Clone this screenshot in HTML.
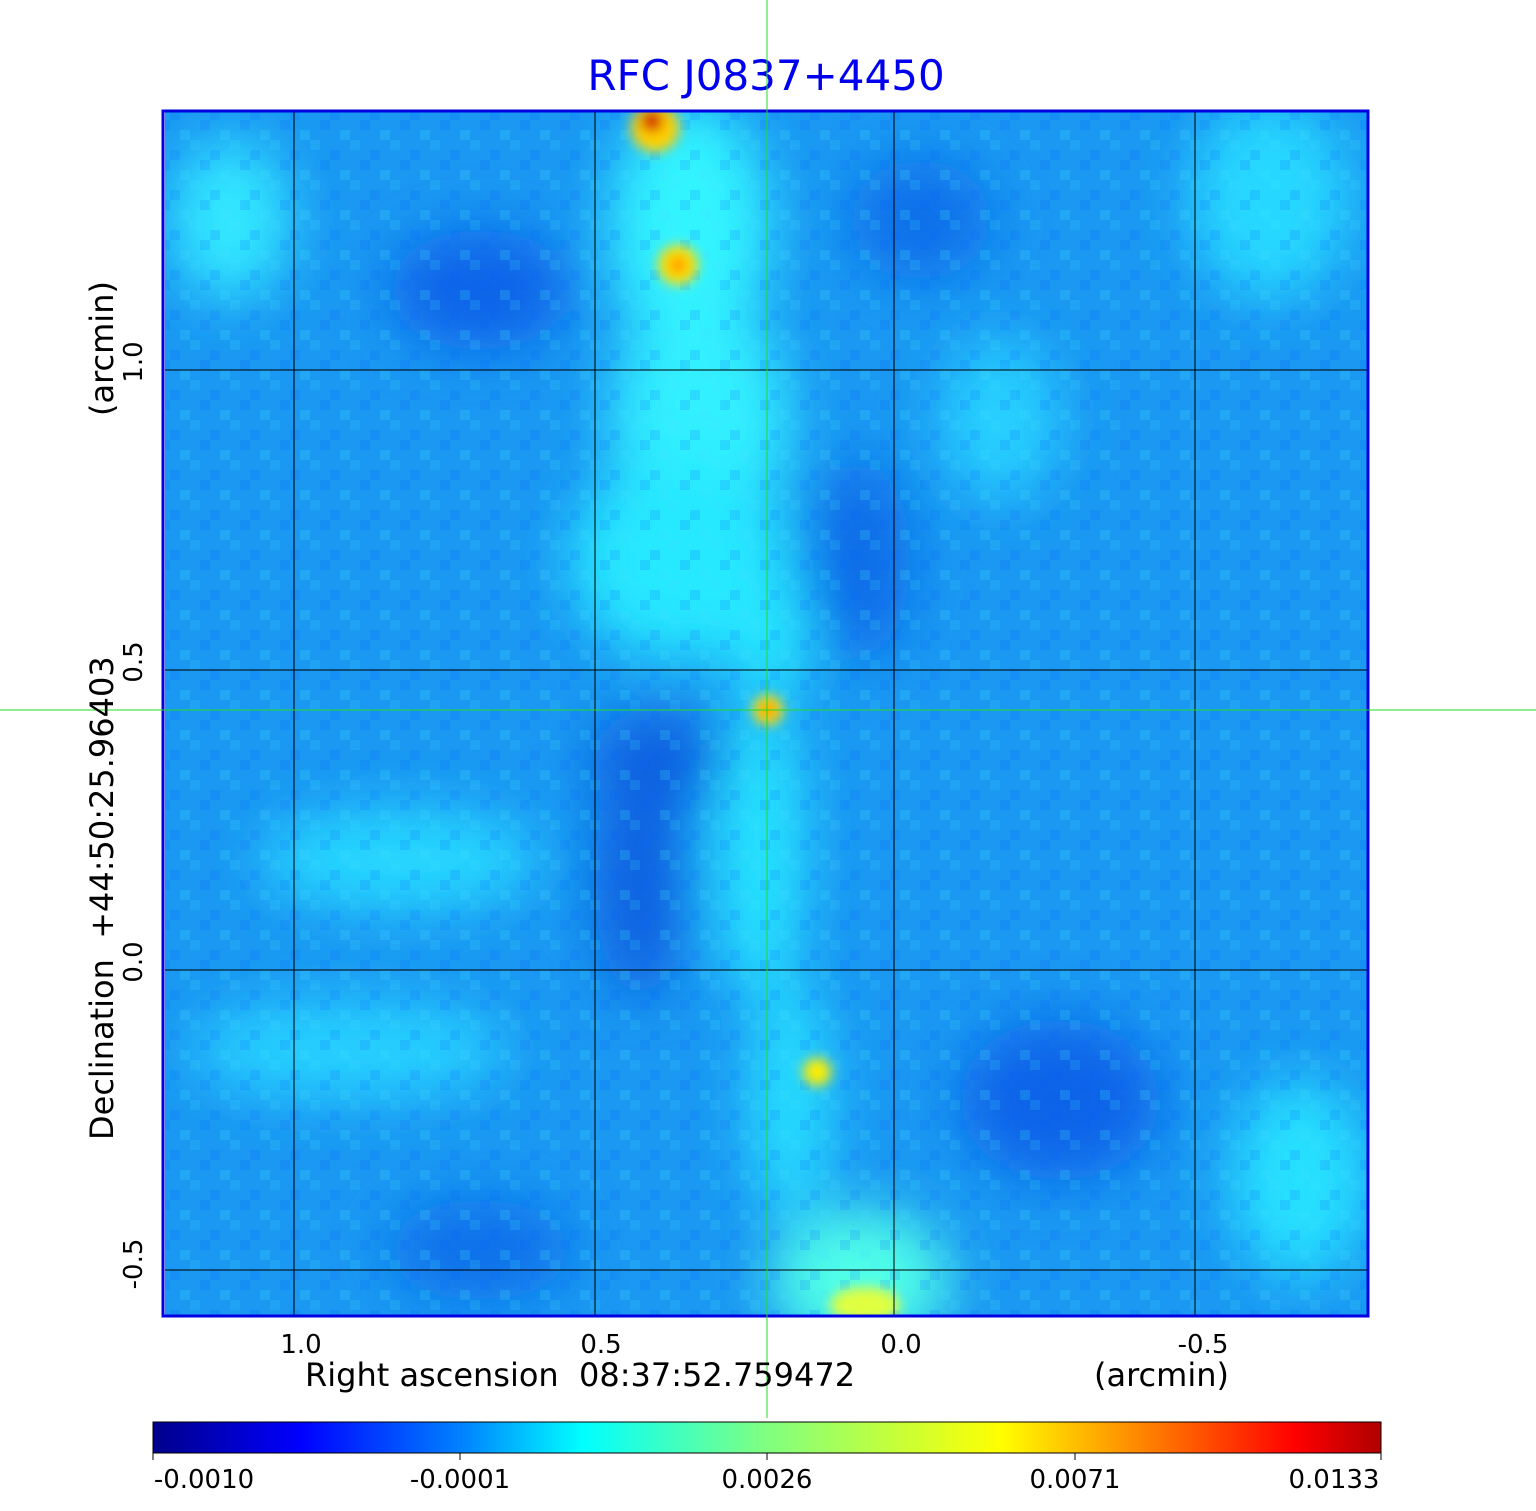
<!DOCTYPE html>
<html><head><meta charset="utf-8"><style>
html,body{margin:0;padding:0;background:#fff;}
svg{display:block;font-family:"DejaVu Sans","Liberation Sans",sans-serif;}
</style></head><body>
<svg width="1536" height="1511" viewBox="0 0 1536 1511" xmlns="http://www.w3.org/2000/svg">
<defs>
<linearGradient id="cb" x1="0" x2="1" y1="0" y2="0">
<stop offset="0" stop-color="#00008b"/><stop offset="0.12" stop-color="#0000ff"/>
<stop offset="0.25" stop-color="#0080ff"/><stop offset="0.35" stop-color="#00ffff"/>
<stop offset="0.5" stop-color="#80ff80"/><stop offset="0.69" stop-color="#ffff00"/>
<stop offset="0.93" stop-color="#ff0000"/><stop offset="1" stop-color="#b00000"/>
</linearGradient>
<filter id="b1" x="-50%" y="-50%" width="200%" height="200%"><feGaussianBlur stdDeviation="28"/></filter>
<filter id="b2" x="-50%" y="-50%" width="200%" height="200%"><feGaussianBlur stdDeviation="6"/></filter>
<clipPath id="clip"><rect x="165" y="112" width="1202" height="1203"/></clipPath>
<pattern id="noise" width="40" height="40" patternUnits="userSpaceOnUse">
<rect x="0" y="0" width="10" height="10" fill="#0060ff" opacity="0.15"/>
<rect x="20" y="10" width="10" height="10" fill="#40e0ff" opacity="0.2"/>
<rect x="10" y="30" width="10" height="10" fill="#0060ff" opacity="0.15"/>
<rect x="30" y="20" width="10" height="10" fill="#40e0ff" opacity="0.15"/>
</pattern>
</defs>
<text x="766" y="90" text-anchor="middle" font-size="42" fill="#0000ee">RFC J0837+4450</text>
<g clip-path="url(#clip)">
<rect x="160" y="110" width="1210" height="1210" fill="#1a98f2"/>
<g filter="url(#b1)">
<ellipse cx="690" cy="230" rx="80" ry="130" fill="#30f4ff"/>
<ellipse cx="700" cy="420" rx="90" ry="120" fill="#30f0ff"/>
<ellipse cx="680" cy="560" rx="110" ry="100" fill="#28e8ff"/>
<ellipse cx="770" cy="640" rx="40" ry="60" fill="#28e8ff"/>
<ellipse cx="760" cy="850" rx="45" ry="150" fill="#28e4ff"/>
<ellipse cx="790" cy="1100" rx="40" ry="120" fill="#28e0ff"/>
<ellipse cx="860" cy="1280" rx="90" ry="70" fill="#50ffe8"/>
<ellipse cx="230" cy="220" rx="60" ry="80" fill="#30e8ff"/>
<ellipse cx="400" cy="860" rx="140" ry="50" fill="#28d8ff"/>
<ellipse cx="350" cy="1050" rx="160" ry="50" fill="#28d0ff"/>
<ellipse cx="1270" cy="200" rx="80" ry="100" fill="#28d8ff"/>
<ellipse cx="1300" cy="1180" rx="70" ry="100" fill="#28e0ff"/>
<ellipse cx="1000" cy="420" rx="60" ry="80" fill="#28d0ff"/>
<ellipse cx="480" cy="290" rx="90" ry="60" fill="#0a64e8"/>
<ellipse cx="660" cy="760" rx="70" ry="50" fill="#0a60e0"/>
<ellipse cx="640" cy="880" rx="45" ry="120" fill="#0a60e0"/>
<ellipse cx="1060" cy="1100" rx="100" ry="80" fill="#0a64e8"/>
<ellipse cx="860" cy="560" rx="50" ry="100" fill="#0c6ce8"/>
<ellipse cx="920" cy="220" rx="70" ry="60" fill="#0c70ea"/>
<ellipse cx="480" cy="1250" rx="90" ry="50" fill="#0c70ea"/>
</g>
<rect x="160" y="110" width="1210" height="1210" fill="url(#noise)"/>
<g filter="url(#b2)">
<circle cx="655" cy="128" r="24" fill="#ffd000"/>
<circle cx="652" cy="121" r="11" fill="#d00000"/>
<circle cx="678" cy="265" r="20" fill="#ffe000"/>
<circle cx="678" cy="265" r="8" fill="#ff8800"/>
<circle cx="768" cy="710" r="15" fill="#ffe000"/>
<circle cx="768" cy="710" r="6" fill="#ff3000"/>
<circle cx="817" cy="1072" r="14" fill="#ffee00"/>
<ellipse cx="865" cy="1305" rx="35" ry="18" fill="#e0ff40"/>
</g>
</g>
<g stroke="#000" stroke-width="1">
<line x1="294" y1="112" x2="294" y2="1315"/><line x1="595" y1="112" x2="595" y2="1315"/>
<line x1="894" y1="112" x2="894" y2="1315"/><line x1="1195" y1="112" x2="1195" y2="1315"/>
<line x1="165" y1="370" x2="1367" y2="370"/><line x1="165" y1="670" x2="1367" y2="670"/>
<line x1="165" y1="970" x2="1367" y2="970"/><line x1="165" y1="1270" x2="1367" y2="1270"/>
</g>
<rect x="163" y="111" width="1205" height="1205" fill="none" stroke="#0000e0" stroke-width="3"/>
<line x1="767" y1="0" x2="767" y2="1418" stroke="#22dd22" stroke-width="1"/>
<line x1="0" y1="710" x2="1536" y2="710" stroke="#22dd22" stroke-width="1"/>
<g font-size="26" fill="#000" text-anchor="middle">
<text x="301" y="1353">1.0</text><text x="601" y="1353">0.5</text>
<text x="901" y="1353">0.0</text><text x="1203" y="1353">-0.5</text>
<g transform="translate(142,0)">
<text transform="translate(0,362) rotate(-90)">1.0</text>
<text transform="translate(0,662) rotate(-90)">0.5</text>
<text transform="translate(0,962) rotate(-90)">0.0</text>
<text transform="translate(0,1264) rotate(-90)">-0.5</text>
</g>
</g>
<g font-size="32" fill="#000">
<text x="305" y="1386">Right ascension&#160;&#160;08:37:52.759472</text>
<text x="1094" y="1386">(arcmin)</text>
<text transform="translate(113,1140) rotate(-90)">Declination&#160;&#160;+44:50:25.96403</text>
<text transform="translate(113,416) rotate(-90)">(arcmin)</text>
</g>
<rect x="153" y="1422" width="1228" height="31" fill="url(#cb)" stroke="#000" stroke-width="1"/>
<g stroke="#000"><line x1="153" y1="1453" x2="153" y2="1460"/><line x1="460" y1="1453" x2="460" y2="1460"/><line x1="767" y1="1453" x2="767" y2="1460"/><line x1="1075" y1="1453" x2="1075" y2="1460"/><line x1="1381" y1="1453" x2="1381" y2="1460"/></g>
<g font-size="26" fill="#000" text-anchor="middle">
<text x="204" y="1488">-0.0010</text><text x="460" y="1488">-0.0001</text>
<text x="767" y="1488">0.0026</text><text x="1075" y="1488">0.0071</text><text x="1334" y="1488">0.0133</text>
</g>
</svg>
</body></html>
